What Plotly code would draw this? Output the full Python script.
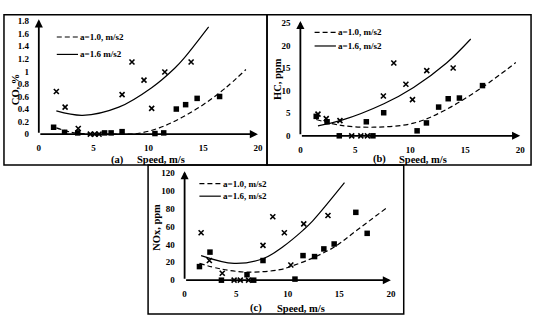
import plotly.graph_objects as go

W, H = 540, 322
def px(x): return x / W
def py(y): return 1 - y / H

# ---------------- data ----------------
# Panel (a) CO, %
co_spd_16 = [1.6, 2.4, 3.6, 4.7, 5.1, 5.5, 7.6, 8.5, 9.6, 10.3, 11.5, 13.9]
co_val_16 = [0.68, 0.43, 0.09, 0, 0, 0, 0.63, 1.15, 0.86, 0.41, 0.99, 1.15]
co_spd_10 = [1.35, 2.35, 3.55, 6.0, 6.6, 7.6, 10.6, 11.4, 12.55, 13.4, 14.45, 16.5]
co_val_10 = [0.11, 0.03, 0.02, 0.02, 0.02, 0.04, 0.01, 0.02, 0.40, 0.47, 0.57, 0.60]
co_fit16_x = [1.6, 4.0, 7.3, 10.3, 12.4, 13.3, 15.5]
co_fit16_y = [0.37, 0.30, 0.43, 0.74, 1.05, 1.22, 1.71]
co_fit10_x = [1.6, 3.0, 5.0, 7.0, 9.0, 11.0, 13.0, 15.0, 17.0, 18.9]
co_fit10_y = [0.10, 0.03, 0.0, 0.0, 0.01, 0.10, 0.26, 0.47, 0.73, 1.03]

# Panel (b) HC, ppm
hc_spd_16 = [1.6, 2.35, 3.6, 4.67, 5.5, 6.1, 7.55, 8.5, 9.6, 10.2, 11.5, 13.9]
hc_val_16 = [4.8, 3.8, 3.35, 0, 0, 0, 8.8, 16.1, 11.4, 8.0, 14.4, 15.0]
hc_spd_10 = [1.44, 2.43, 3.54, 6.0, 6.6, 7.58, 10.62, 11.47, 12.58, 13.45, 14.47, 16.57]
hc_val_10 = [4.3, 3.1, 0, 3.1, 0, 5.1, 1.1, 2.85, 6.35, 8.2, 8.35, 11.1]
hc_fit16_x = [1.6, 3.7, 7.6, 10.3, 13.3, 15.5]
hc_fit16_y = [2.2, 3.4, 7.1, 10.7, 16.1, 21.4]
hc_fit10_x = [1.44, 3.7, 6.7, 10.3, 13.1, 16.6, 19.6]
hc_fit10_y = [3.6, 2.3, 1.9, 2.8, 5.6, 10.8, 16.2]

# Panel (c) NOx, ppm
nox_spd_16 = [1.6, 2.4, 3.65, 4.8, 5.4, 6.2, 7.6, 8.55, 9.67, 10.3, 11.55, 13.9]
nox_val_16 = [53, 22, 7.7, 0, 0, 0, 39, 71, 53, 17, 63, 72.3]
nox_spd_10 = [1.44, 2.46, 3.57, 6.05, 6.7, 7.6, 10.7, 11.48, 12.6, 13.5, 14.5, 16.6, 17.7]
nox_val_10 = [15.2, 31.4, 0, 6.1, 0, 22, 1.2, 27.5, 26.4, 35, 40.5, 75.9, 52.4]
nox_fit16_x = [1.6, 4.8, 7.7, 9.6, 11.5, 12.4, 15.5]
nox_fit16_y = [27.5, 18.8, 24.5, 38, 56, 66, 109]
nox_fit10_x = [1.44, 3.5, 6.1, 9.25, 10.5, 12.44, 14.5, 16.6, 19.6]
nox_fit10_y = [18.8, 12.6, 9.0, 11.8, 16.2, 25, 37, 55, 81]

x_ticks = [0, 5, 10, 15, 20]
co_ticks = [0, 0.2, 0.4, 0.6, 0.8, 1, 1.2, 1.4, 1.6, 1.8]
co_ticktext = ["0", "0.2", "0.4", "0.6", "0.8", "1", "1.2", "1.4", "1.6", "1.8"]
hc_ticks = [0, 5, 10, 15, 20, 25]
nox_ticks = [0, 20, 40, 60, 80, 100, 120]

# ---------------- figure ----------------
FONT = "Liberation Serif"
fig = go.Figure()

panels = [
    dict(xa="x", ya="y", s16=co_spd_16, v16=co_val_16, s10=co_spd_10, v10=co_val_10,
         f16x=co_fit16_x, f16y=co_fit16_y, f10x=co_fit10_x, f10y=co_fit10_y),
    dict(xa="x2", ya="y2", s16=hc_spd_16, v16=hc_val_16, s10=hc_spd_10, v10=hc_val_10,
         f16x=hc_fit16_x, f16y=hc_fit16_y, f10x=hc_fit10_x, f10y=hc_fit10_y),
    dict(xa="x3", ya="y3", s16=nox_spd_16, v16=nox_val_16, s10=nox_spd_10, v10=nox_val_10,
         f16x=nox_fit16_x, f16y=nox_fit16_y, f10x=nox_fit10_x, f10y=nox_fit10_y),
]

for p in panels:
    fig.add_trace(go.Scatter(x=p["f10x"], y=p["f10y"], xaxis=p["xa"], yaxis=p["ya"],
                             mode="lines", line=dict(color="black", width=1.2, dash="5px,3px",
                                                     shape="spline", smoothing=1.0),
                             showlegend=False, hoverinfo="skip"))
    fig.add_trace(go.Scatter(x=p["f16x"], y=p["f16y"], xaxis=p["xa"], yaxis=p["ya"],
                             mode="lines", line=dict(color="black", width=1.2,
                                                     shape="spline", smoothing=1.0),
                             showlegend=False, hoverinfo="skip"))
    fig.add_trace(go.Scatter(x=p["s10"], y=p["v10"], xaxis=p["xa"], yaxis=p["ya"],
                             mode="markers", cliponaxis=False,
                             marker=dict(symbol="square", size=5.5, color="black"),
                             showlegend=False))
    fig.add_trace(go.Scatter(x=p["s16"], y=p["v16"], xaxis=p["xa"], yaxis=p["ya"],
                             mode="markers", cliponaxis=False,
                             marker=dict(symbol="x-thin", size=5,
                                         line=dict(color="black", width=1.6)),
                             showlegend=False))

tickfont = dict(family=FONT, size=9, color="black", weight="bold")

def xax(domain, anchor):
    return dict(domain=domain, anchor=anchor, range=[0, 20], tickvals=x_ticks,
                showgrid=False, zeroline=False, showline=False,
                ticks="outside", ticklen=5, tickcolor="rgba(0,0,0,0)", tickfont=tickfont)

def yax(domain, anchor, rng, tv, tt=None):
    d = dict(domain=domain, anchor=anchor, range=rng, tickvals=tv,
             showgrid=False, zeroline=False, showline=False,
             ticks="outside", ticklen=7, tickcolor="rgba(0,0,0,0)", tickfont=tickfont)
    if tt:
        d["ticktext"] = tt
    return d

fig.update_layout(
    width=W, height=H, margin=dict(l=0, r=0, t=0, b=0),
    paper_bgcolor="white", plot_bgcolor="rgba(0,0,0,0)",
    xaxis=xax([px(37.3), px(259.3)], "y"),
    yaxis=yax([py(133.3), py(16.7)], "x", [0, 1.8], co_ticks, co_ticktext),
    xaxis2=xax([px(302.3), px(525)], "y2"),
    yaxis2=yax([py(135), py(18.3)], "x2", [0, 25], hc_ticks),
    xaxis3=xax([px(185), px(394)], "y3"),
    yaxis3=yax([py(284), py(173.3)], "x3", [0, 120], nox_ticks),
)

# axis arrows
annotations = []
for xa, ya, ytop in [("x", "y", 1.83), ("x2", "y2", 25.4), ("x3", "y3", 122)]:
    annotations.append(dict(x=20, y=0, ax=0, ay=0, xref=xa, yref=ya, axref=xa, ayref=ya,
                            showarrow=True, arrowhead=2, arrowsize=0.9, arrowwidth=1.8,
                            arrowcolor="black", text=""))
    annotations.append(dict(x=0, y=ytop, ax=0, ay=0, xref=xa, yref=ya, axref=xa, ayref=ya,
                            showarrow=True, arrowhead=2, arrowsize=0.9, arrowwidth=1.8,
                            arrowcolor="black", text=""))

titlefont = dict(family=FONT, size=10.5, color="black", weight="bold")
legfont = dict(family=FONT, size=9, color="black", weight="bold")

def txt(x, y, s, font, xanchor="center", angle=0):
    return dict(x=px(x), y=py(y), xref="paper", yref="paper", text=s, showarrow=False,
                font=font, xanchor=xanchor, yanchor="middle", textangle=angle)

annotations += [
    txt(13, 87, "CO, %", titlefont, angle=-90),
    txt(279, 76, "HC, ppm", titlefont, angle=-90),
    txt(157, 229, "NOx, ppm", titlefont, angle=-90),
    txt(117, 159.5, "(a)", titlefont),
    txt(161, 159.5, "Speed, m/s", titlefont),
    txt(382, 159, "(b)", titlefont),
    txt(427, 159, "Speed, m/s", titlefont),
    txt(257, 313, "(c)", titlefont),
    txt(303, 313, "Speed, m/s", titlefont),
]

shapes = []
# legends
legends = [
    (55.5, 77, 33, 51, "a=1.0, m/s2", "a=1.6 m/s2"),
    (316.7, 338.3, 28.3, 42.3, "a=1.0, m/s2", "a=1.6, m/s2"),
    (200, 221.7, 184.3, 197.3, "a=1.0, m/s2", "a=1.6, m/s2"),
]
for x0, x1, yd, ys, t1, t2 in legends:
    shapes.append(dict(type="line", xref="paper", yref="paper", x0=px(x0), x1=px(x1),
                       y0=py(yd), y1=py(yd), line=dict(color="black", width=1.2, dash="5px,3px")))
    shapes.append(dict(type="line", xref="paper", yref="paper", x0=px(x0), x1=px(x1),
                       y0=py(ys), y1=py(ys), line=dict(color="black", width=1.2)))
    annotations.append(txt(x1 + 0.5, yd, t1, legfont, xanchor="left"))
    annotations.append(txt(x1 + 0.5, ys, t2, legfont, xanchor="left"))

# panel borders
for x0, y0, x1, y1 in [(2, 10, 268.5, 165), (268.5, 10, 536, 165), (148, 165, 407, 319)]:
    shapes.append(dict(type="rect", xref="paper", yref="paper", x0=px(x0), x1=px(x1),
                       y0=py(y1), y1=py(y0), line=dict(color="black", width=1.5)))

fig.update_layout(annotations=annotations, shapes=shapes)
fig.write_html("out.html")
